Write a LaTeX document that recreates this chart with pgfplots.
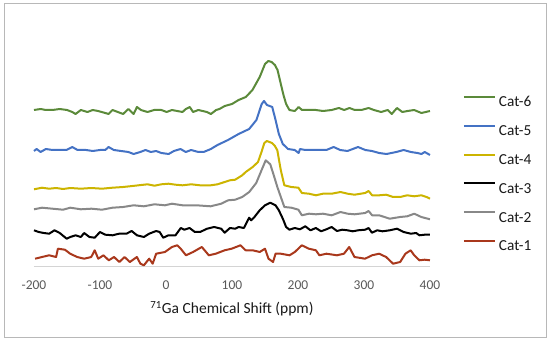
\documentclass[border=0pt]{standalone}
\usepackage{fontspec}
\setmainfont{Carlito}
\usepackage{pgfplots}
\pgfplotsset{compat=1.18}
\definecolor{cgreen}{HTML}{5B8A3A}
\definecolor{cblue}{HTML}{4472C4}
\definecolor{cyellow}{HTML}{CCB400}
\definecolor{cgray}{HTML}{888888}
\definecolor{cred}{HTML}{A9381C}
\definecolor{ticklab}{HTML}{595959}
\begin{document}
\begin{tikzpicture}
\useasboundingbox (0,0) rectangle (550pt,343pt);
\draw[color=black!28, line width=1pt] (4pt,5pt) rectangle (546pt,339pt);
\begin{axis}[
  at={(34pt,76pt)}, anchor=south west,
  scale only axis, width=396pt, height=230pt,
  xmin=-200, xmax=400, ymin=0, ymax=230,
  axis x line*=bottom, axis y line=none, ytick=\empty,
  x axis line style={draw=black!17, line width=1pt, -},
  xtick={-200,-100,...,400}, major tick length=0pt,
  xticklabel style={font=\fontsize{13.5}{16}\selectfont, text=ticklab, yshift=-10pt},
  /pgf/number format/assume math mode=true,
  xlabel={\textsuperscript{71}Ga Chemical Shift (ppm)},
  xlabel style={font=\fontsize{15.5}{18}\selectfont, text=black!90, at={(axis description cs:0.5,0)}, anchor=center, yshift=-42pt},
  clip=false,
  legend style={at={(1.0833,0.7435)}, anchor=north west, draw=none, fill=none, inner sep=0pt, outer sep=0pt, row sep=17.8pt,
    nodes={inner sep=0pt, text height=10pt, text depth=0pt, font=\fontsize{15.3}{18}\selectfont, text=black!90},
    /tikz/every odd column/.append style={column sep=3pt}},
  legend cell align=left,
  legend image code/.code={\draw[#1, line width=2pt] (0pt,5pt) -- (31pt,5pt);},
  every axis plot/.append style={line width=2pt, line join=round},
]
% Cat-6
\addplot[cgreen] coordinates {
(-200,157) (-190,158) (-182,157) (-172,157) (-161,158) (-150,157) (-142,155) (-137,153) (-129,157) (-119,155)
(-111,157) (-103,156) (-92,154) (-87,153) (-81,157) (-73,155) (-65,153) (-57,158) (-49,153) (-44,160)
(-38,157) (-28,155) (-18,157) (-7,157) (1,155) (9,157) (17,156) (25,155) (30,158) (36,160)
(41,155) (49,157) (62,155) (68,153) (76,157) (81,158) (89,161) (100,163) (110,167) (121,170)
(131,177) (142,190) (150,203) (155,206) (160,205) (165,202) (169,197) (174,183) (178,172) (182,163)
(187,157) (195,156) (201,160) (206,157) (217,157) (227,157) (238,156) (251,157) (262,159) (270,157)
(278,159) (286,157) (296,157) (307,159) (315,157) (326,155) (336,157) (342,153) (350,159) (358,155)
(366,156) (376,157) (387,154) (400,156)};
\addlegendentry{Cat-6}
% Cat-5
\addplot[cblue] coordinates {
(-200,116) (-196,118) (-190,115) (-182,118) (-172,117) (-161,117) (-151,117) (-142,120) (-134,117) (-121,117)
(-111,116) (-100,117) (-92,117) (-87,120) (-79,117) (-68,116) (-57,115) (-49,113) (-39,115) (-31,117)
(-23,115) (-15,116) (-7,114) (4,113) (12,116) (22,118) (30,115) (38,117) (49,115) (57,115)
(68,118) (78,122) (94,127) (110,133) (126,138) (137,147) (145,163) (148.5,166) (153,162) (161,160)
(166,147) (171,133) (177,123) (185,118) (195,117) (201,114) (203,118) (211,117) (222,117) (232,117)
(243,117) (254,120) (264,117) (275,116) (291,120) (302,117) (312,116) (323,114) (334,113) (349,115)
(360,117) (371,115) (381,114) (387,113) (392,115) (400,112)};
\addlegendentry{Cat-5}
% Cat-4
\addplot[cyellow] coordinates {
(-200,77.7) (-188,79.3) (-177,78.3) (-166.5,79) (-156,78) (-145,79) (-129,78.3) (-113,79) (-97,78.3) (-81,79.3)
(-65,80) (-55,80.7) (-41.5,81.7) (-28,82.7) (-17.5,81.3) (-7,82.7) (3.7,83.3) (14.4,82.3) (25,81.7) (38.3,82.7)
(51.6,81.7) (67.6,81.7) (78.2,82.7) (88.9,85) (96.9,86.7) (104.8,87.3) (115.5,91.7) (120.8,95) (131.4,100) (139.4,105)
(144.7,115) (149,124) (152.7,126) (160.7,124) (165,121) (168.7,116.7) (171.3,106.7) (174,96.7) (179.3,81.7) (189.9,80)
(200.6,79.3) (205.9,74) (216.6,73.3) (227.2,71.7) (237.8,73.3) (251.1,73.3) (264.4,75) (275.1,73.3) (285.7,72.3) (301.7,74)
(307,76) (312.3,71.7) (323,71.7) (333.6,72.3) (344.2,70) (354.8,70) (365.5,71.7) (376.2,70.7) (386.8,71.7) (394.8,70)
(400,68.3)};
\addlegendentry{Cat-4}
% Cat-3
\addplot[black] coordinates {
(-200,36.7) (-193,35) (-185,34) (-177,33.3) (-169,36.7) (-161,34) (-150.5,28.3) (-145,30) (-137,31.7) (-129,30)
(-124,34) (-116,30) (-108,29.3) (-100,35) (-92,32.3) (-81,31.7) (-71,33.3) (-60,33.3) (-52,36) (-44,31.7)
(-33.5,30) (-25.5,33.3) (-15,36) (-9.6,35) (-4.2,29.3) (3.7,31.7) (14.4,31.7) (22.4,39) (27.7,37.3) (35.7,39)
(43.7,35) (51.6,35) (62.3,38.3) (72.9,40) (83.6,38.3) (88.9,34.3) (96.9,39) (104.8,38.3) (110.2,40) (118,39)
(126,49.3) (129,46.7) (134,50) (142,56.7) (150,61.7) (158,64.3) (166,61.7) (171,56.7) (177,48.3) (182,40)
(187,37.3) (195,39) (203,37.7) (211,40.7) (219,36.7) (227,39) (235,35.7) (243,37.7) (251,40) (259,36)
(267,37.3) (275,36.7) (283,35.7) (291,36.7) (302,37.3) (307,39) (312,34.3) (320,36.7) (328,35.7) (339,36.7)
(350,38.3) (360,35) (371,33.3) (379,34) (384,31.7) (392,32.3) (400,32.3)};
\addlegendentry{Cat-3}
% Cat-2
\addplot[cgray] coordinates {
(-200,57.7) (-188,59.3) (-172,58.3) (-156,57.3) (-145,59.3) (-129,57.7) (-113,58.3) (-97,57.3) (-81,59.3) (-65,60)
(-49,61.7) (-33.5,60.7) (-17.5,62.7) (-1.6,61.7) (9,63.3) (25,61.7) (46.3,61.7) (67.6,60.7) (83.6,63.3) (94.2,66.7)
(104.8,67.3) (115.5,70) (126.1,75) (136.7,84) (144.7,96.7) (151.1,106.7) (158,102.7) (163.3,91.7) (168.7,80) (174,70)
(179.3,60) (189.9,59.3) (200.6,57.3) (205.9,51.7) (216.6,53.3) (227.2,52.7) (237.8,53.3) (251.1,51.7) (264.4,55) (275.1,53.3)
(285.7,52.7) (301.7,54) (307,56) (312.3,51.7) (323,51.7) (339,48.3) (354.8,50) (365.5,50.7) (376.2,53.3) (386.8,50)
(400,47.7)};
\addlegendentry{Cat-2}
% Cat-1
\addplot[cred] coordinates {
(-198.4,8.3) (-187.8,10) (-177.1,11.7) (-166.5,10) (-163.8,18.3) (-153.2,17.3) (-145.2,13.3) (-134.6,10) (-123.9,8.3) (-113.3,10)
(-108,16.7) (-102.7,8.3) (-94.7,11.7) (-86.7,6.7) (-78.7,10) (-70.7,5) (-62.8,10) (-54.8,5) (-44.1,10) (-38.8,3.3)
(-33.5,1.7) (-25.5,8.3) (-20.2,3.3) (-14.9,13.3) (-1.6,15) (9,20) (17,21.7) (22.3,18.3) (30.3,11.7) (41,15)
(54.3,20) (64.9,11.7) (75.5,13.3) (88.8,16.7) (99.5,18.3) (112.8,21.7) (120.7,16.7) (131.4,16.7) (142,15) (150,18.3)
(155.3,8.3) (162.2,5) (166,13.3) (173.9,13.3) (187.2,11.7) (195.2,15) (205.8,21.7) (216.5,18.3) (227.1,16.7) (232.4,11.7)
(243.1,13.3) (259,11.7) (269.7,13.3) (277.6,20) (285.6,10) (301.6,8.3) (312.2,11.7) (322.9,13.3) (333.5,10) (344.1,3.3)
(354.8,5) (362.8,13.3) (370.7,16.7) (376.1,11.7) (384,6.7) (392,7.3) (400,6.7)};
\addlegendentry{Cat-1}
\end{axis}
\end{tikzpicture}
\end{document}
